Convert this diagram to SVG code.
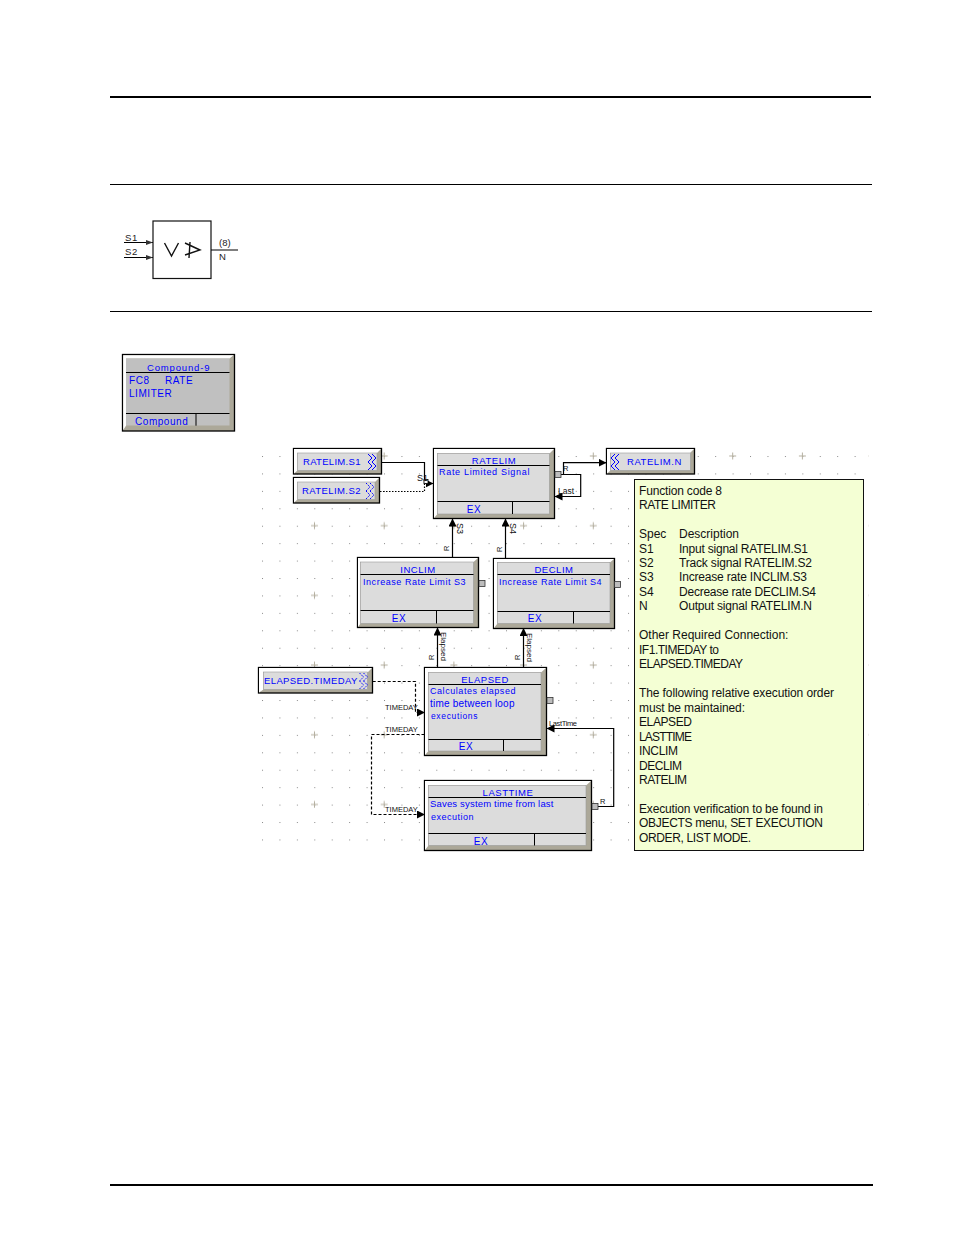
<svg xmlns="http://www.w3.org/2000/svg" width="954" height="1235" viewBox="0 0 954 1235">
<style>
text{font-family:"Liberation Sans",Arial,sans-serif}
.blue{fill:#0000ff;font-size:9.5px;letter-spacing:.55px}
.mid{text-anchor:middle}
.tag{fill:#111;font-size:7.5px}
.note{fill:#111;font-size:12px}
.sym{fill:#222;font-size:9.5px}
.rule{stroke:#000;fill:none}
.ln{stroke:#000;fill:none;stroke-width:1.2}
.dash{stroke:#000;fill:none;stroke-width:1.2;stroke-dasharray:3 2}
.dot{stroke:#000;fill:none;stroke-width:1.2;stroke-dasharray:1.5 1.5}
.outer{fill:#aca899;stroke:#000;stroke-width:1.3}
.hi{fill:#fff}
.face{fill:#dcdcdc;stroke:#999;stroke-width:.6}
.div{stroke:#000;stroke-width:1;fill:none}
.port{fill:#bdbdbd;stroke:#333;stroke-width:.8}
.chev{stroke:#0000ff;fill:none;stroke-width:1}
.chevs{stroke:#0000ff;fill:none;stroke-width:1;stroke-dasharray:1.5 1}
</style>
<defs>
<pattern id="dots" x="262" y="456" width="17.43" height="17.43" patternUnits="userSpaceOnUse"><rect width="1" height="1" fill="#8a8a8a"/></pattern>
<pattern id="plus" x="311" y="452" width="69.7" height="69.7" patternUnits="userSpaceOnUse"><path d="M0 4H7M3.5 .5V7.5" stroke="#b5b0a0" fill="none"/></pattern>
<marker id="arr" viewBox="0 0 8 8" refX="7.5" refY="4" markerWidth="8" markerHeight="8" markerUnits="userSpaceOnUse" orient="auto"><path d="M0 0L8 4L0 8Z" fill="#000"/></marker>
<path id="chev-r" d="M0 0l4 4-4 4M4 0l4 4-4 4M0 8l4 4-4 4M4 8l4 4-4 4"/>
<path id="chev-l" d="M4 0l-4 4 4 4M8 0l-4 4 4 4M4 8l-4 4 4 4M8 8l-4 4 4 4"/>
</defs>

<!-- page rules -->
<g id="rules">
<path class="rule" stroke-width="2" d="M110 97H871"/>
<path class="rule" d="M110 184.500H872"/>
<path class="rule" d="M110 311.500H872"/>
<path class="rule" stroke-width="2" d="M110 1185H873"/>
</g>

<!-- function block symbol -->
<g id="symbol">
<rect x="153" y="221" width="58" height="57.500" fill="#fff" stroke="#111" stroke-width="1.200"/>
<path class="ln" d="M124 242.500H153M124 257.500H153M211 250H238"/>
<path d="M146 240L153 242.500L146 245ZM146 255L153 257.500L146 260Z" fill="#333"/>
<path d="M164.500 243L171.500 256L178.500 243" fill="none" stroke="#111" stroke-width="1.400"/>
<path d="M185 243L200 250L185 255M190 242L189 258" fill="none" stroke="#111" stroke-width="1.400"/>
<text class="sym" x="125" y="241" letter-spacing=".6">S1</text>
<text class="sym" x="125" y="255" letter-spacing=".6">S2</text>
<text class="sym" x="219" y="245.500">(8)</text>
<text class="sym" x="219" y="259.500">N</text>
</g>

<!-- compound block -->
<g id="compound">
<rect class="outer" x="122.500" y="354.500" width="112" height="76.500"/>
<path class="hi" d="M123.200 355.200H233.500L229.500 358.500H126V425.700L123.200 430Z"/>
<rect x="126" y="358.500" width="103.500" height="67" fill="#c0c0c0"/>
<path class="div" d="M126 372.500H229.500M126 413.500H229.500M196 413.500V425.700"/>
<text class="blue" x="147" y="370.500" textLength="63">Compound-9</text>
<text class="blue" x="129" y="383.500" style="font-size:10px">FC8</text>
<text class="blue" x="165" y="383.500" style="font-size:10px">RATE</text>
<text class="blue" x="129" y="396.500" style="font-size:10px">LIMITER</text>
<text class="blue" x="135" y="424.500" style="font-size:10px">Compound</text>
</g>

<!-- sheet grid -->
<g id="grid">
<rect x="262" y="456" width="610" height="396" fill="url(#dots)"/>
<rect x="311" y="452" width="558" height="356" fill="url(#plus)"/>
</g>

<!-- connectors -->
<g id="connectors">
<path class="ln" d="M381.700 462.500H424.500V483.500H433" marker-end="url(#arr)"/>
<path class="dot" d="M380 491.500H424.500V483.500"/>
<rect x="424" y="479.500" width="4" height="4" fill="#fff" stroke="#000" stroke-width=".8"/>
<path class="ln" d="M561 474.500H563.500V462.700H606" marker-end="url(#arr)"/>
<path class="ln" d="M561 474.500H580.700V496.500H555" marker-end="url(#arr)"/>
<path class="ln" d="M452.500 557.500V519" marker-end="url(#arr)"/>
<path class="ln" d="M505.500 558.500V519" marker-end="url(#arr)"/>
<path class="ln" d="M437.500 667.500V628" marker-end="url(#arr)"/>
<path class="ln" d="M523.500 667.500V628.500" marker-end="url(#arr)"/>
<path class="dash" d="M372.700 681.500H415.500V712.500H424.500" marker-end="url(#arr)"/>
<path class="dash" d="M424.500 734.500H371.500V814.500H424.500" marker-end="url(#arr)"/>
<path class="ln" d="M598 806.500H613.700V728.500H547" marker-end="url(#arr)"/>
<text class="tag" x="417" y="481" style="font-size:9px">S1</text>
<text class="tag" x="563" y="471">R</text>
<text class="tag" x="558" y="494" style="font-size:8.500px">Last</text>
<text class="tag" x="449" y="551" transform="rotate(-90 449 551)">R</text>
<text class="tag" x="457" y="523" transform="rotate(90 457 523)" style="font-size:9px">S3</text>
<text class="tag" x="502" y="552" transform="rotate(-90 502 552)">R</text>
<text class="tag" x="510" y="523" transform="rotate(90 510 523)" style="font-size:9px">S4</text>
<text class="tag" x="434" y="660" transform="rotate(-90 434 660)">R</text>
<text class="tag" x="441" y="632" transform="rotate(90 441 632)" style="font-size:8px">Elapsed</text>
<text class="tag" x="520" y="660" transform="rotate(-90 520 660)">R</text>
<text class="tag" x="527" y="633" transform="rotate(90 527 633)" style="font-size:8px">Elapsed</text>
<text class="tag" x="385" y="710">TIMEDAY</text>
<text class="tag" x="385" y="732">TIMEDAY</text>
<text class="tag" x="385" y="812">TIMEDAY</text>
<text class="tag" x="549" y="726" textLength="28">LastTime</text>
<text class="tag" x="600" y="804">R</text>
</g>

<!-- signal references -->
<g id="ratelim-s1">
<rect class="outer" x="293.500" y="448.500" width="88" height="25.500"/>
<path class="hi" d="M294 449H381L377 453H297.500V470.500L294 473.500Z"/>
<rect class="face" x="297.500" y="453" width="79.500" height="17.500"/>
<text class="blue" x="303" y="465.300" textLength="58">RATELIM.S1</text>
<use href="#chev-r" class="chev" x="368" y="454"/>
</g>
<g id="ratelim-s2">
<rect class="outer" x="293.500" y="477.500" width="86" height="25.500"/>
<path class="hi" d="M294 478H379L375 482H297.500V499.500L294 502.500Z"/>
<rect class="face" x="297.500" y="482" width="77.500" height="17.500"/>
<text class="blue" x="302" y="494.300" textLength="59">RATELIM.S2</text>
<use href="#chev-r" class="chevs" x="366" y="483"/>
</g>
<g id="ratelim-n">
<rect class="outer" x="606.500" y="448.500" width="88" height="25.500"/>
<path class="hi" d="M607 449H694L690 453H610.500V470.500L607 473.500Z"/>
<rect class="face" x="610.500" y="453" width="80" height="17.500"/>
<text class="blue" x="627" y="465.300">RATELIM.N</text>
<use href="#chev-l" class="chev" x="611" y="454"/>
</g>
<g id="elapsed-timeday">
<rect class="outer" x="258.500" y="667.500" width="114" height="25.500"/>
<path class="hi" d="M259 668H372L368 672H263.500V689.500L259 692.500Z"/>
<rect class="face" x="263.500" y="672" width="104" height="17.500"/>
<text class="blue" x="264" y="684.300" textLength="94">ELAPSED.TIMEDAY</text>
<use href="#chev-r" class="chevs" x="359.500" y="673"/>
</g>

<!-- function blocks -->
<g id="ratelim">
<rect class="outer" x="433.500" y="448.500" width="121" height="70"/>
<path class="hi" d="M434 449H554L549.500 453.500H437.500V514L434 518Z"/>
<rect class="face" x="437.500" y="453.500" width="112" height="60.500"/>
<path class="div" d="M437.500 465.500H549.500M437.500 501.500H549.500M512.500 501.500V514"/>
<rect class="port" x="555" y="471.500" width="6" height="6"/>
<text class="blue mid" x="494" y="464">RATELIM</text>
<text class="blue" x="439" y="475" style="font-size:9px" textLength="91">Rate Limited Signal</text>
<text class="blue mid" x="474" y="513" style="font-size:10px">EX</text>
</g>
<g id="inclim">
<rect class="outer" x="357.500" y="557.500" width="121" height="70"/>
<path class="hi" d="M358 558H478L473.500 562H360.500V623.500L358 627Z"/>
<rect class="face" x="360.500" y="562" width="113" height="61.500"/>
<path class="div" d="M360.500 574.500H473.500M360.500 610.500H473.500M436.500 610.500V623.500"/>
<rect class="port" x="479" y="580.500" width="6" height="6"/>
<text class="blue mid" x="418" y="573">INCLIM</text>
<text class="blue" x="363" y="585" style="font-size:9px">Increase Rate Limit S3</text>
<text class="blue mid" x="399" y="622" style="font-size:10px">EX</text>
</g>
<g id="declim">
<rect class="outer" x="493.500" y="558.500" width="121" height="70"/>
<path class="hi" d="M494 559H614L610 562.500H497.500V623.500L494 628Z"/>
<rect class="face" x="497.500" y="562.500" width="112.500" height="61"/>
<path class="div" d="M497.500 574.500H610M497.500 611.500H610M573.500 611.500V623.500"/>
<rect class="port" x="614.500" y="581.500" width="6" height="6"/>
<text class="blue mid" x="554" y="573">DECLIM</text>
<text class="blue" x="499" y="585" style="font-size:9px">Increase Rate Limit S4</text>
<text class="blue mid" x="535" y="622" style="font-size:10px">EX</text>
</g>
<g id="elapsed">
<rect class="outer" x="424.500" y="667.500" width="122" height="88"/>
<path class="hi" d="M425 668H546L541 672.500H428.500V751L425 755Z"/>
<rect class="face" x="428.500" y="672.500" width="112.500" height="78.500"/>
<path class="div" d="M428.500 684.500H541M428.500 739.500H541M503.500 739.500V751"/>
<rect class="port" x="547" y="697.500" width="6" height="6"/>
<text class="blue mid" x="485" y="683">ELAPSED</text>
<text class="blue" x="430" y="694" style="font-size:9px" textLength="86">Calculates elapsed</text>
<text class="blue" x="430" y="707" style="font-size:10px" textLength="85">time between loop</text>
<text class="blue" x="431" y="719" style="font-size:8.500px" textLength="47">executions</text>
<text class="blue mid" x="466" y="750" style="font-size:10px">EX</text>
</g>
<g id="lasttime">
<rect class="outer" x="424.500" y="780.500" width="167" height="70"/>
<path class="hi" d="M425 781H591L586 785.500H428.500V845.500L425 850Z"/>
<rect class="face" x="428.500" y="785.500" width="157.500" height="60"/>
<path class="div" d="M428.500 797.500H586M428.500 833.500H586M534.500 833.500V845.500"/>
<rect class="port" x="592" y="803.500" width="6" height="6"/>
<text class="blue mid" x="508" y="796">LASTTIME</text>
<text class="blue" x="430" y="807" style="font-size:9.500px" textLength="124">Saves system time from last</text>
<text class="blue" x="431" y="820" style="font-size:9px" textLength="43">execution</text>
<text class="blue mid" x="481" y="845" style="font-size:10px">EX</text>
</g>

<!-- function code note -->
<g id="note">
<rect x="634.500" y="479.500" width="229" height="371" fill="#f4ffd4" stroke="#111"/>
<text class="note" x="639" y="495" textLength="83">Function code 8</text>
<text class="note" x="639" y="509" textLength="77">RATE LIMITER</text>
<text class="note" x="639" y="538">Spec</text><text class="note" x="679" y="538">Description</text>
<text class="note" x="639" y="553">S1</text><text class="note" x="679" y="553" textLength="129">Input signal RATELIM.S1</text>
<text class="note" x="639" y="567">S2</text><text class="note" x="679" y="567" textLength="133">Track signal RATELIM.S2</text>
<text class="note" x="639" y="581">S3</text><text class="note" x="679" y="581" textLength="128">Increase rate INCLIM.S3</text>
<text class="note" x="639" y="596">S4</text><text class="note" x="679" y="596" textLength="137">Decrease rate DECLIM.S4</text>
<text class="note" x="639" y="610">N</text><text class="note" x="679" y="610" textLength="133">Output signal RATELIM.N</text>
<text class="note" x="639" y="639">Other Required Connection:</text>
<text class="note" x="639" y="654" textLength="80">IF1.TIMEDAY to</text>
<text class="note" x="639" y="668" textLength="104">ELAPSED.TIMEDAY</text>
<text class="note" x="639" y="697" textLength="195">The following relative execution order</text>
<text class="note" x="639" y="712" textLength="106">must be maintained:</text>
<text class="note" x="639" y="726" textLength="53">ELAPSED</text>
<text class="note" x="639" y="741" textLength="53">LASTTIME</text>
<text class="note" x="639" y="755" textLength="39">INCLIM</text>
<text class="note" x="639" y="770" textLength="43">DECLIM</text>
<text class="note" x="639" y="784" textLength="48">RATELIM</text>
<text class="note" x="639" y="813" textLength="184">Execution verification to be found in</text>
<text class="note" x="639" y="827" textLength="184">OBJECTS menu, SET EXECUTION</text>
<text class="note" x="639" y="842" textLength="112">ORDER, LIST MODE.</text>
</g>
</svg>
